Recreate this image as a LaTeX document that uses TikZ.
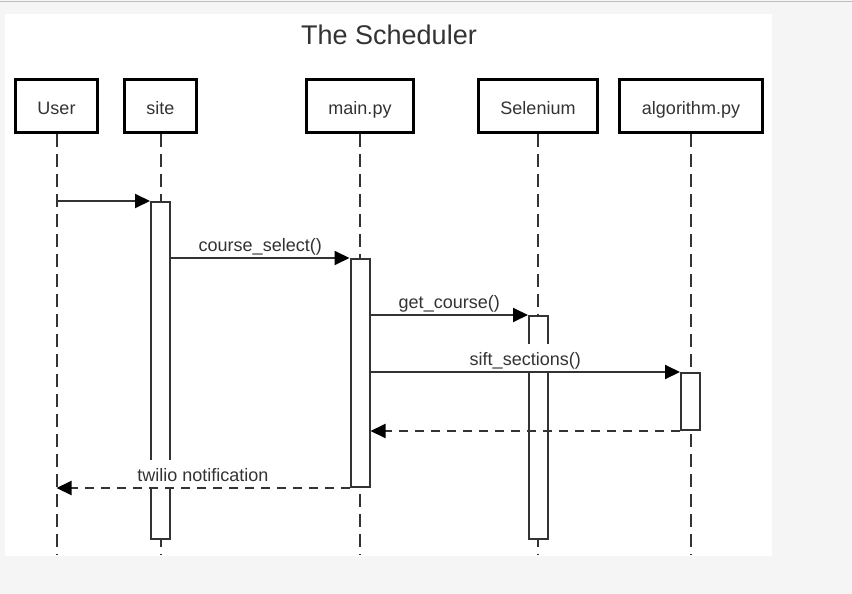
\documentclass[tikz,border=0pt]{standalone}
\usepackage{fontspec}
\setmainfont{Liberation Sans}
\usetikzlibrary{arrows.meta}
\definecolor{ink}{HTML}{333333}
\definecolor{pagegray}{HTML}{F5F5F5}
\definecolor{rulegray}{HTML}{BDBDBD}
\begin{document}
\begin{tikzpicture}[x=1pt, y=-1pt]

      \tikzset{actor/.style={draw=black, line width=3pt, fill=white, minimum height=53pt, inner sep=0pt, text height=16pt, text depth=0pt, text=ink, font=\fontsize{18}{20}\selectfont},
        lifeline/.style={draw=ink, line width=2pt, dash pattern=on 13pt off 7pt},
        actbar/.style={draw=ink, line width=2pt, fill=white, inner sep=0pt, minimum width=19pt, anchor=north},
        call/.style={->, >={Triangle[length=15pt, width=14pt, color=black]}, line width=2pt, draw=ink},
        reply/.style={call, dash pattern=on 9pt off 7pt},
        msglabel/.style={fill=white, text=ink, font=\fontsize{18}{20}\selectfont, inner xsep=2pt, inner ysep=2pt, text height=19pt, text depth=4pt, anchor=south, midway}}
      \useasboundingbox (0,0) rectangle (852,594);
%% Page
      \fill[pagegray] (0,0) rectangle (852,594);
      \draw[rulegray, line width=1pt] (0,1.5) -- (852,1.5);
      \fill[white] (5,14) rectangle (772,556);
      \coordinate (floor) at (0,555);
      \node[text=ink, font=\fontsize{27}{30}\selectfont] (title) at (389,35) {The Scheduler};
%% Participants
      	\node[actor, minimum width=82pt] (user) at (56.5,106) {User};
      	\node[actor, minimum width=72pt] (site) at (160.5,106) {site};
      	\node[actor, minimum width=107pt] (main) at (360,106) {main.py};
      	\node[actor, minimum width=119pt] (selenium) at (538,106) {Selenium};
      	\node[actor, minimum width=143pt] (algo) at (691,106) {algorithm.py};
%Lifelines
      \foreach \p in {user,site,main,selenium,algo}
        \draw[lifeline] (\p.south) -- (\p.south |- floor);
%Activations
      	\node[actbar, minimum height=337pt] (siteact) at (160.5,201) {};
      	\node[actbar, minimum height=228pt] (mainact) at (360,258) {};
      	\node[actbar, minimum height=223pt] (selact) at (538.5,315) {};
      	\node[actbar, minimum height=57pt] (algoact) at (690.5,372) {};
%Messages
		\draw[call] (user |- siteact.north) -- (siteact.north west);
		\draw[call] (siteact.east |- mainact.north) -- node[msglabel] {course\_select()} (mainact.north west);
		\draw[call] (mainact.east |- selact.north) -- node[msglabel] {get\_course()} (selact.north west);
		\draw[call] (mainact.east |- algoact.north) -- node[msglabel] {sift\_sections()} (algoact.north west);
		\draw[reply] (algoact.south west) -- (mainact.east |- algoact.south);
		\draw[reply] (mainact.south west) -- node[msglabel] {twilio notification} (user |- mainact.south);

\end{tikzpicture}
\end{document}
